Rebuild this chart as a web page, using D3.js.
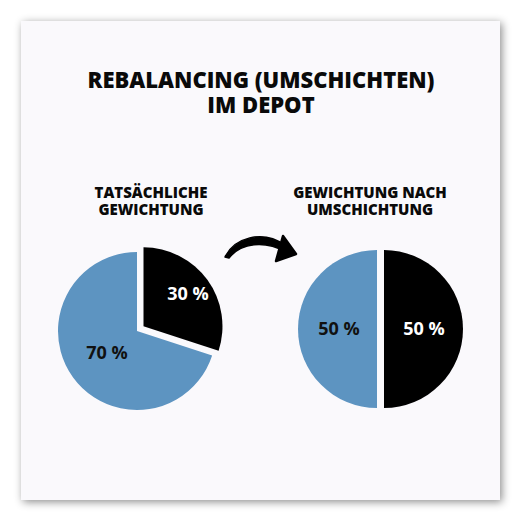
<!DOCTYPE html>
<html><head><meta charset="utf-8">
<script src="https://cdn.jsdelivr.net/npm/d3@7"></script>
<style>html,body{margin:0;padding:0;background:#fff}svg{display:block}</style>
</head><body>
<svg id="c" width="521" height="521"></svg>
<script>
const titleLines = ["REBALANCING (UMSCHICHTEN)", "IM DEPOT"];
const chartTitles = [["TATSÄCHLICHE", "GEWICHTUNG"], ["GEWICHTUNG NACH", "UMSCHICHTUNG"]];
const categories = ["Anteil A", "Anteil B"];
const valuesBefore = [30, 70];
const valuesAfter = [50, 50];
const colors = ["#000000", "#5d94c1"];
const labelColors = ["#ffffff", "#111111"];

const svg = d3.select("#c");
const defs = svg.append("defs");
const f = defs.append("filter").attr("id","sh").attr("x","-10%").attr("y","-10%").attr("width","120%").attr("height","120%");
f.append("feDropShadow").attr("dx",2).attr("dy",2).attr("stdDeviation",4).attr("flood-color","#000").attr("flood-opacity",0.45);

svg.append("rect").attr("x",21).attr("y",21).attr("width",479).attr("height",479)
  .attr("fill","#faf9fc").attr("filter","url(#sh)");

const font = "'Open Sans', sans-serif";
svg.append("g").selectAll("text").data(titleLines).join("text")
  .attr("x",261).attr("y",(d,i)=>88+i*25).attr("text-anchor","middle")
  .attr("font-family",font).attr("font-weight",800).attr("font-size",22).attr("fill","#0a0a0a")
  .text(d=>d);

const pies = [
  {values: valuesBefore, cx:137, cy:331, titleX:151, explode:[8,0], labelR:[55,37]},
  {values: valuesAfter, cx:377, cy:329, titleX:370, explode:[7,0], labelR:[40,38]}
];
const r = 79;
const pie = d3.pie().sort(null).value(d=>d);
const arc = d3.arc().innerRadius(0).outerRadius(r);

pies.forEach((p,pi)=>{
  svg.append("g").selectAll("text").data(chartTitles[pi]).join("text")
    .attr("x",p.titleX).attr("y",(d,i)=>198+i*17).attr("text-anchor","middle")
    .attr("font-family",font).attr("font-weight",800).attr("font-size",15).attr("fill","#0a0a0a")
    .text(d=>d);
  const g = svg.append("g").attr("transform",`translate(${p.cx},${p.cy})`);
  const arcs = pie(p.values);
  arcs.forEach((a,i)=>{
    const mid = (a.startAngle+a.endAngle)/2;
    const e = p.explode[i];
    const dx = Math.sin(mid)*e, dy = -Math.cos(mid)*e;
    const sg = g.append("g").attr("transform",`translate(${dx},${dy})`);
    sg.append("path").attr("d",arc(a)).attr("fill",colors[i]);
    const c = d3.arc().innerRadius(p.labelR[i]).outerRadius(p.labelR[i]).centroid(a);
    sg.append("text").attr("x",c[0]).attr("y",c[1]).attr("text-anchor","middle").attr("dy","0.36em")
      .attr("font-family",font).attr("font-weight",700).attr("font-size",18).attr("fill",labelColors[i])
      .text(p.values[i]+" %");
  });
});

// curved arrow decoration
const arrow = svg.append("g");
arrow.append("path")
  .attr("d","M225,257 C234,238 262,229 285,245 L286,252 C264,240 241,243 229,258 Z")
  .attr("fill","#000").attr("stroke","#000").attr("stroke-width",1.5).attr("stroke-linejoin","round");
arrow.append("path")
  .attr("d","M283,236 L296,254 L276,261 Z")
  .attr("fill","#000").attr("stroke","#000").attr("stroke-width",2.5).attr("stroke-linejoin","round");
</script>
</body></html>
